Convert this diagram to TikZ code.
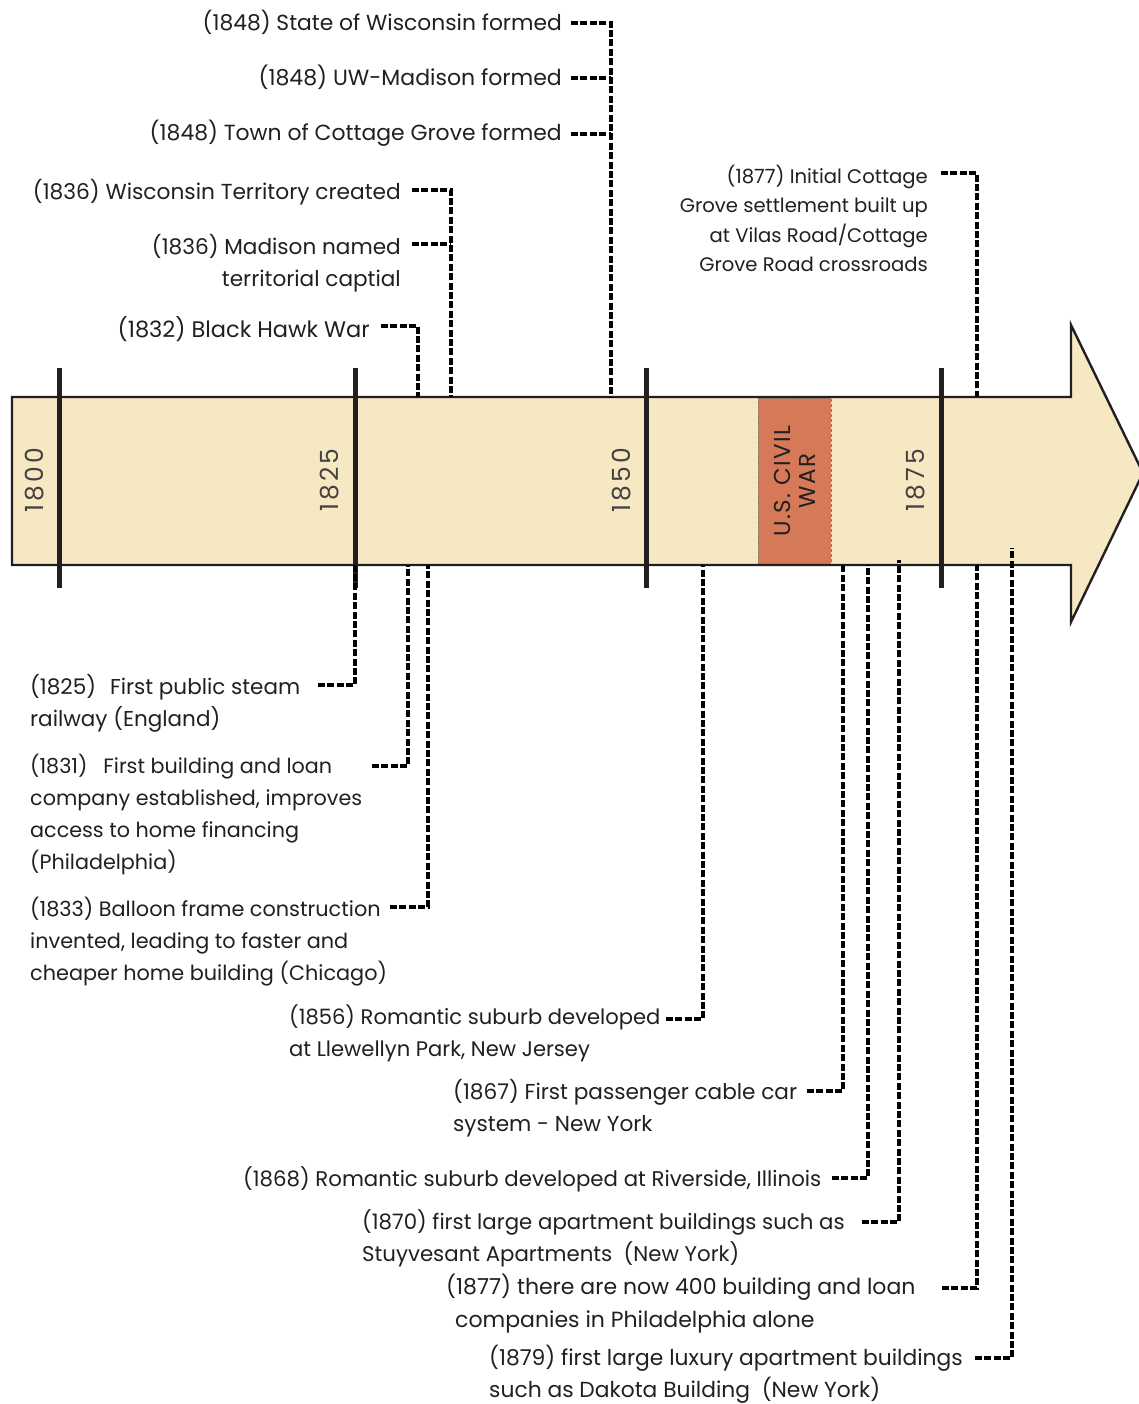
\documentclass[tikz,border=0pt]{standalone}
\usepackage{fontspec}
\setmainfont{Poppins}
\definecolor{body}{RGB}{246,232,194}
\definecolor{war}{RGB}{214,121,88}
\definecolor{txt}{RGB}{35,31,32}
\newcommand{\fs}[2]{\fontsize{#1}{#2}\selectfont}
\begin{document}
\begin{tikzpicture}[x=1pt,y=-1pt,
  lbl/.style={inner sep=0pt, text=txt},
  lblr/.style={lbl, align=right},
  lbll/.style={lbl, align=left},
  lead/.style={draw=black, line width=4pt, dash pattern=on 7pt off 2.4pt},
  tickline/.style={draw=txt, line width=5pt},
  yearlbl/.style={rotate=90, font=\fs{25}{28}\addfontfeature{LetterSpace=12}, inner sep=0pt, text=txt!85},
  outline/.style={draw=txt, line width=2.4pt, line join=miter}]

\useasboundingbox (0,0) rectangle (1138,1404);
\fill[white] (0,0) rectangle (1138,1404);

% arrow body
\fill[body] (12,397) -- (1071,397) -- (1071,325) -- (1143,473) -- (1071,622) -- (1071,565) -- (12,565) -- cycle;
% civil war box
\node[draw=gray, densely dashed, line width=1pt, fill=war, minimum width=73pt, minimum height=166pt, inner sep=0pt] (war) at (794.5,481) {};
\node[rotate=90, align=center, font=\fs{23}{25}\addfontfeature{LetterSpace=6}, text=txt, inner sep=0pt] (warlbl) at (war.center) {U.S. CIVIL\\WAR};
\draw[outline] (12,397) -- (1071,397) -- (1071,325) -- (1143,473) -- (1071,622) -- (1071,565) -- (12,565) -- cycle;

% ticks
\coordinate (k1800a) at (59,368);  \coordinate (k1800b) at (59,588);
\coordinate (k1825a) at (355,368); \coordinate (k1825b) at (355,588);
\coordinate (k1850a) at (646,368); \coordinate (k1850b) at (646,588);
\coordinate (k1875a) at (941,368); \coordinate (k1875b) at (941,588);
\draw[tickline] (k1800a) -- (k1800b);
\draw[tickline] (k1825a) -- (k1825b);
\draw[tickline] (k1850a) -- (k1850b);
\draw[tickline] (k1875a) -- (k1875b);
\node[yearlbl] (y1800) at (35,480) {1800};
\node[yearlbl] (y1825) at (330,480) {1825};
\node[yearlbl] (y1850) at (622,480) {1850};
\node[yearlbl] (y1875) at (916,480) {1875};

% top labels
\node[lblr, anchor=east, font=\fs{21.8}{32}] (t1) at (562,22) {(1848) State of Wisconsin formed};
\node[lblr, anchor=east, font=\fs{22}{32}] (t2) at (562,77) {(1848) UW-Madison formed};
\node[lblr, anchor=east, font=\fs{21.9}{32}] (t3) at (562,133) {(1848) Town of Cottage Grove formed};
\node[lblr, anchor=east, font=\fs{21.7}{32}] (t4) at (401,192) {(1836) Wisconsin Territory created};
\node[lblr, anchor=north east, font=\fs{21.6}{32}] (t5) at (401,234) {(1836) Madison named\\territorial captial};
\node[lblr, anchor=east, font=\fs{22.5}{32}] (t6) at (370,329) {(1832) Black Hawk War};
\node[lblr, anchor=north east, font=\fs{19.6}{29.3}] (t7) at (928,165) {(1877) Initial Cottage\\Grove settlement built up\\at Vilas Road/Cottage\\Grove Road crossroads};

\coordinate (s1) at (571,23);  \coordinate (e1) at (611,397);
\coordinate (s2) at (571,78);
\coordinate (s3) at (571,134);
\coordinate (s4) at (412,190); \coordinate (e4) at (451,397);
\coordinate (s5) at (412,244);
\coordinate (s6) at (381,326); \coordinate (e6) at (418,397);
\coordinate (s7) at (941,173); \coordinate (e7) at (977,397);
\draw[lead] (s1) -| (e1);
\draw[lead] (s2) -- (s2 -| e1);
\draw[lead] (s3) -- (s3 -| e1);
\draw[lead] (s4) -| (e4);
\draw[lead] (s5) -- (s5 -| e4);
\draw[lead] (s6) -| (e6);
\draw[lead] (s7) -| (e7);

% bottom labels
\node[lbll, anchor=north west, font=\fs{21.5}{32}] (b1) at (30,674) {(1825)\hspace{14pt}First public steam\\railway (England)};
\node[lbll, anchor=north west, font=\fs{20.7}{32}] (b2) at (30,754) {(1831)\hspace{16pt}First building and loan\\company established, improves\\access to home financing\\(Philadelphia)};
\node[lbll, anchor=north west, font=\fs{20.8}{32}] (b3) at (30,897) {(1833) Balloon frame construction\\invented, leading to faster and\\cheaper home building (Chicago)};
\node[lbll, anchor=north west, font=\fs{21.1}{32}] (b4) at (289,1005) {(1856) Romantic suburb developed\\at Llewellyn Park, New Jersey};
\node[lbll, anchor=north west, font=\fs{21.6}{32}] (b5) at (453,1079) {(1867) First passenger cable car\\system - New York};
\node[lbll, anchor=north west, font=\fs{21.3}{32}] (b6) at (243,1166) {(1868) Romantic suburb developed at Riverside, Illinois};
\node[lbll, anchor=north west, font=\fs{21.3}{32}] (b7) at (362,1209) {(1870) first large apartment buildings such as\\Stuyvesant Apartments\ \ (New York)};
\node[lbll, anchor=north west, font=\fs{22}{33}] (b8) at (446,1274) {(1877) there are now 400 building and loan\\\hspace*{9pt}companies in Philadelphia alone};
\node[lbll, anchor=north west, font=\fs{21.8}{32}] (b9) at (489,1345) {(1879) first large luxury apartment buildings\\such as Dakota Building\ \ (New York)};

\coordinate (u1) at (318,685);  \coordinate (f1) at (355,565);
\coordinate (u2) at (372,766);  \coordinate (f2) at (408,565);
\coordinate (u3) at (390,907);  \coordinate (f3) at (428,565);
\coordinate (u4) at (666,1019); \coordinate (f4) at (703,565);
\coordinate (u5) at (807,1091); \coordinate (f5) at (843,565);
\coordinate (u6) at (832,1178); \coordinate (f6) at (868,565);
\coordinate (u7) at (862,1222); \coordinate (f7) at (899,560);
\coordinate (u8) at (942,1288); \coordinate (f8) at (977,565);
\coordinate (u9) at (975,1358); \coordinate (f9) at (1012,548);
\draw[lead] (u1) -| (f1);
\draw[lead] (u2) -| (f2);
\draw[lead] (u3) -| (f3);
\draw[lead] (u4) -| (f4);
\draw[lead] (u5) -| (f5);
\draw[lead] (u6) -| (f6);
\draw[lead] (u7) -| (f7);
\draw[lead] (u8) -| (f8);
\draw[lead] (u9) -| (f9);
\end{tikzpicture}
\end{document}
